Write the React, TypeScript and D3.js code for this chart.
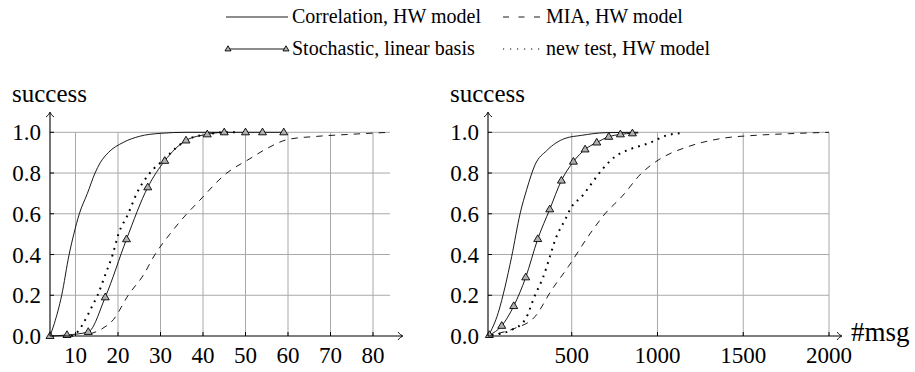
import React from "react";
import * as d3 from "d3";

// ---------- data ----------
const yTicks = [0, 0.2, 0.4, 0.6, 0.8, 1.0];
const yTickLabels = ["0.0", "0.2", "0.4", "0.6", "0.8", "1.0"];
const leftXTicks = [10, 20, 30, 40, 50, 60, 70, 80];
const rightXTicks = [500, 1000, 1500, 2000];

const legendLabels = [
  "Correlation, HW model",
  "MIA, HW model",
  "Stochastic, linear basis",
  "new test, HW model",
];

// left panel
const lCorrX = [4, 5, 6.75, 8.5, 9.6, 10.9, 12.8, 14.6, 15.8, 17.7, 21.2, 25, 30, 36, 45];
const lCorrY = [0, 0.06, 0.2, 0.4, 0.5, 0.6, 0.7, 0.8, 0.85, 0.9, 0.95, 0.98, 0.995, 1.0, 1.0];

const lStochX = [4, 8, 13, 17, 22, 27, 31, 36, 41, 45, 50, 54, 59];
const lStochY = [0, 0.005, 0.02, 0.19, 0.475, 0.73, 0.86, 0.96, 0.99, 1.0, 1.0, 1.0, 1.0];

const lNewX = [9, 10, 11.5, 12.8, 14, 15.2, 17, 18.75, 20.1, 22.4, 24.4, 27.5, 31, 34, 37, 41, 45, 48];
const lNewY = [0, 0.01, 0.05, 0.1, 0.15, 0.2, 0.3, 0.4, 0.5, 0.6, 0.7, 0.8, 0.87, 0.93, 0.97, 0.99, 1.0, 1.0];

const lMiaX = [13.4, 16.2, 18.9, 22.4, 26, 28.7, 32.2, 36.2, 38.5, 45.6, 51, 55, 60, 66.8, 74.6, 84];
const lMiaY = [0.01, 0.035, 0.08, 0.2, 0.3, 0.4, 0.5, 0.6, 0.65, 0.8, 0.87, 0.92, 0.965, 0.98, 0.99, 1.0];

// right panel
const rCorrX = [14, 72, 111, 150, 199, 238, 286, 354, 461, 558, 694, 887];
const rCorrY = [0, 0.115, 0.24, 0.39, 0.6, 0.72, 0.84, 0.91, 0.97, 0.985, 0.998, 1.0];

const rStochX = [20, 92, 162, 232, 302, 372, 440, 510, 578, 646, 716, 784, 854];
const rStochY = [0.005, 0.05, 0.147, 0.288, 0.476, 0.622, 0.763, 0.856, 0.916, 0.95, 0.978, 0.99, 0.995];
const rStochEndX = [854, 888];
const rStochEndY = [0.995, 0.997];

const rNewX = [34, 150, 228, 286, 334, 373, 403, 461, 500, 558, 617, 675, 752, 850, 947, 1063, 1131];
const rNewY = [0.005, 0.03, 0.08, 0.2, 0.29, 0.39, 0.47, 0.57, 0.635, 0.684, 0.75, 0.815, 0.88, 0.92, 0.946, 0.987, 0.995];

const rMiaX = [72, 169, 286, 383, 480, 597, 694, 792, 908, 1005, 1180, 1375, 1569, 1763, 2000];
const rMiaY = [0.013, 0.038, 0.095, 0.226, 0.34, 0.49, 0.6, 0.684, 0.8, 0.864, 0.93, 0.97, 0.985, 0.993, 1.0];

// ---------- helpers ----------
const FONT = "'Liberation Serif', 'DejaVu Serif', 'Times New Roman', Times, serif";
const GRID = "#a8a8a8";
const TS: React.CSSProperties = { fontFamily: FONT };

type XY = [number, number];
const zip = (xs: number[], ys: number[]): XY[] => xs.map((x, i) => [x, ys[i]]);

function Triangle({ x, y, s = 4.2 }: { x: number; y: number; s?: number }) {
  const p = `${x},${y - s} ${x - s * 0.95},${y + s * 0.6} ${x + s * 0.95},${y + s * 0.6}`;
  return <polygon points={p} fill="#b0b0b0" stroke="#000" strokeWidth={0.9} />;
}

function Panel({
  xDomain,
  xRange,
  xTicks,
  series,
  xLabel,
}: {
  xDomain: [number, number];
  xRange: [number, number];
  xTicks: number[];
  series: { corr: XY[]; stoch: XY[]; stochTail?: XY[]; news: XY[]; mia: XY[] };
  xLabel?: string;
}) {
  const x = d3.scaleLinear().domain(xDomain).range(xRange);
  const y = d3.scaleLinear().domain([0, 1]).range([336, 132.3]);
  const line = d3
    .line<XY>()
    .x((d) => x(d[0]))
    .y((d) => y(d[1]))
    .curve(d3.curveMonotoneX);
  const x0 = xRange[0];
  const x1 = xRange[1];
  const y0 = y(0);
  const yTop = y(1);
  return (
    <g>
      {xTicks.map((t) => (
        <line key={"gx" + t} x1={x(t)} x2={x(t)} y1={y0} y2={yTop} stroke={GRID} strokeWidth={1} />
      ))}
      {yTicks.slice(1).map((t) => (
        <line key={"gy" + t} x1={x0} x2={x1} y1={y(t)} y2={y(t)} stroke={GRID} strokeWidth={1} />
      ))}
      {xTicks.map((t) => (
        <line key={"tx" + t} x1={x(t)} x2={x(t)} y1={y0} y2={y0 - 4} stroke="#000" strokeWidth={1} />
      ))}
      {yTicks.map((t) => (
        <line key={"ty" + t} x1={x0} x2={x0 + 4} y1={y(t)} y2={y(t)} stroke="#000" strokeWidth={1} />
      ))}
      <path d={line(series.mia) || ""} fill="none" stroke="#000" strokeWidth={0.9} strokeDasharray="6.5 6" />
      <path d={line(series.news) || ""} fill="none" stroke="#000" strokeWidth={2} strokeDasharray="1.8 5.2" />
      <path d={line(series.corr) || ""} fill="none" stroke="#000" strokeWidth={0.9} />
      <path d={line(series.stoch) || ""} fill="none" stroke="#000" strokeWidth={0.9} />
      {series.stochTail && (
        <path d={line(series.stochTail) || ""} fill="none" stroke="#000" strokeWidth={0.9} />
      )}
      {series.stoch.map((d, i) => (
        <Triangle key={"tr" + i} x={x(d[0])} y={y(d[1])} />
      ))}
      <line x1={x0} x2={x1 + 12} y1={y0} y2={y0} stroke="#000" strokeWidth={1.1} />
      <path
        d={`M${x1 + 8},${y0 - 4} Q${x1 + 10},${y0 - 1} ${x1 + 13},${y0} Q${x1 + 10},${y0 + 1} ${x1 + 8},${y0 + 4}`}
        fill="none"
        stroke="#000"
        strokeWidth={0.9}
      />
      <line x1={x0} x2={x0} y1={y0} y2={113} stroke="#000" strokeWidth={1.1} />
      <path
        d={`M${x0 - 4},${117} Q${x0 - 1},${115} ${x0},${112} Q${x0 + 1},${115} ${x0 + 4},${117}`}
        fill="none"
        stroke="#000"
        strokeWidth={0.9}
      />
      {yTicks.map((t, i) => (
        <text key={"ly" + t} x={x0 - 9} y={y(t) + 8} textAnchor="end" style={{ ...TS, fontSize: 23 }}>
          {yTickLabels[i]}
        </text>
      ))}
      {xTicks.map((t) => (
        <text key={"lx" + t} x={x(t)} y={363} textAnchor="middle" style={{ ...TS, fontSize: 23 }}>
          {t}
        </text>
      ))}
      <text x={x0 - 38} y={102} style={{ ...TS, fontSize: 25 }}>
        success
      </text>
      {xLabel && (
        <text x={x1 + 22} y={341} style={{ ...TS, fontSize: 27 }}>
          {xLabel}
        </text>
      )}
    </g>
  );
}

export default function App() {
  const legendY1 = 17;
  const legendY2 = 49;
  const lf = 20;
  return (
    <div style={{ position: "absolute", left: 0, top: 0, fontFamily: FONT }}>
      <svg width={915} height={372} style={{ display: "block", background: "#fff", fontFamily: FONT }}>
        <line x1={226} x2={288} y1={legendY1} y2={legendY1} stroke="#000" strokeWidth={0.9} />
        <text x={292} y={legendY1 + 6} style={{ ...TS, fontSize: lf }}>
          {legendLabels[0]}
        </text>
        <line x1={503} x2={540} y1={legendY1} y2={legendY1} stroke="#000" strokeWidth={0.9} strokeDasharray="6 9.5" />
        <text x={546} y={legendY1 + 6} style={{ ...TS, fontSize: lf }}>
          {legendLabels[1]}
        </text>
        <line x1={228} x2={286} y1={legendY2} y2={legendY2} stroke="#000" strokeWidth={0.9} />
        <Triangle x={228} y={legendY2} s={3.2} />
        <Triangle x={286} y={legendY2} s={3.2} />
        <text x={292} y={legendY2 + 6} style={{ ...TS, fontSize: lf }}>
          {legendLabels[2]}
        </text>
        <line x1={503} x2={544} y1={legendY2} y2={legendY2} stroke="#000" strokeWidth={1.2} strokeDasharray="1.2 5.8" />
        <text x={546} y={legendY2 + 6} style={{ ...TS, fontSize: lf }}>
          {legendLabels[3]}
        </text>

        <Panel
          xDomain={[4, 84]}
          xRange={[50, 390]}
          xTicks={leftXTicks}
          series={{
            corr: zip(lCorrX, lCorrY),
            stoch: zip(lStochX, lStochY),
            news: zip(lNewX, lNewY),
            mia: zip(lMiaX, lMiaY),
          }}
        />
        <Panel
          xDomain={[12, 2000]}
          xRange={[488, 829]}
          xTicks={rightXTicks}
          series={{
            corr: zip(rCorrX, rCorrY),
            stoch: zip(rStochX, rStochY),
            stochTail: zip(rStochEndX, rStochEndY),
            news: zip(rNewX, rNewY),
            mia: zip(rMiaX, rMiaY),
          }}
          xLabel="#msg"
        />
      </svg>
    </div>
  );
}
